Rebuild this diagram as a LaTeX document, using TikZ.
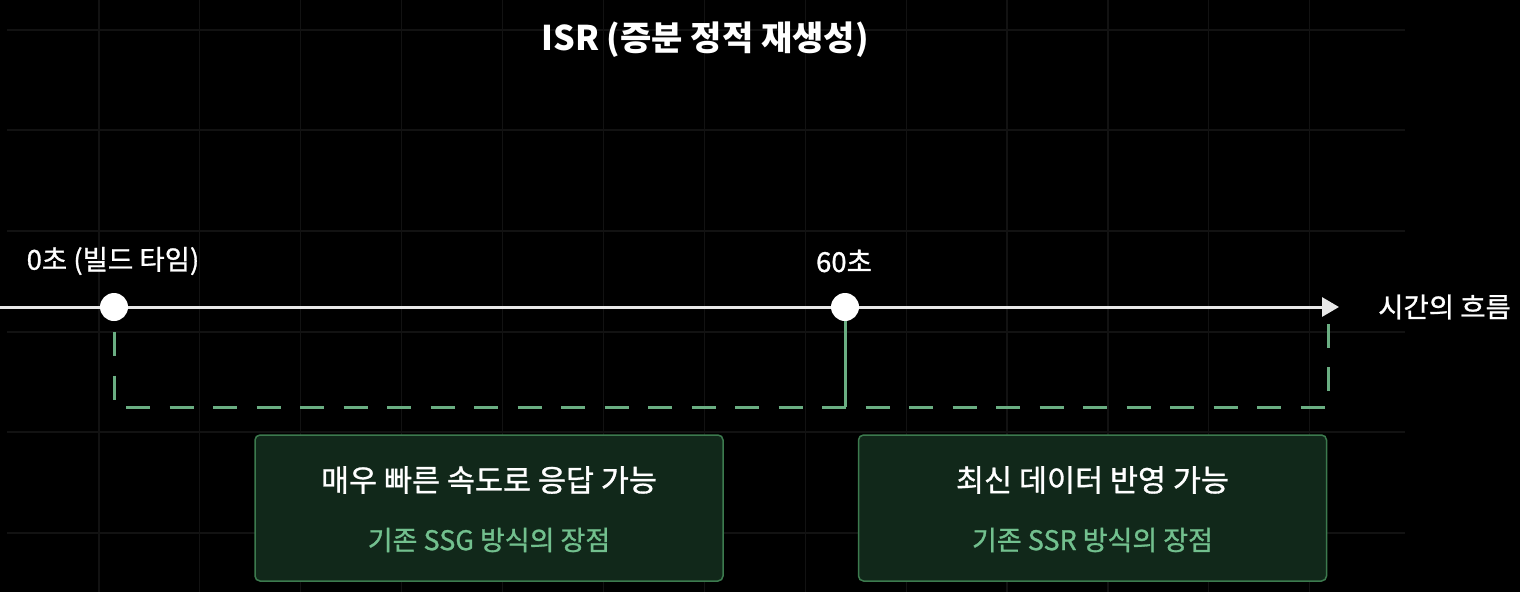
\documentclass[tikz,border=0pt]{standalone}
\usepackage{fontspec}
\setmainfont{Noto Sans CJK KR}
\newfontfamily\medfont{Noto Sans CJK KR}[FakeBold=1.0]
\usetikzlibrary{arrows.meta,positioning,calc}
\usepackage{xcolor}
\definecolor{gridgray}{HTML}{121212}
\definecolor{axiswhite}{HTML}{E8E8E8}
\definecolor{isrgreen}{HTML}{6AAE82}
\definecolor{boxfill}{HTML}{11281A}
\definecolor{boxedge}{HTML}{3C7A4E}
\definecolor{subgreen}{HTML}{72C08E}

\tikzset{
  gridline/.style={gridgray,line width=1.2pt},
  timeaxis/.style={axiswhite,line width=3pt,-{Triangle[length=17pt,width=19pt]}},
  tickdot/.style={circle,fill=white,minimum size=28pt,inner sep=0pt},
  timelabel/.style={text=white,inner sep=0pt,font=\medfont\fontsize{27.5}{31}\selectfont},
  spanline/.style={isrgreen,line width=3pt,dash pattern=on 24pt off 19.5pt},
  linkline/.style={isrgreen,line width=3pt},
  gainbox/.style={draw=boxedge,fill=boxfill,line width=1.5pt,rounded corners=5pt,
                  minimum width=468pt,minimum height=146pt},
  gainmain/.style={text=white,inner sep=0pt,font=\medfont\fontsize{30.5}{34}\selectfont},
  gainsub/.style={text=subgreen,inner sep=0pt,font=\medfont\fontsize{27}{31}\selectfont}
}

\begin{document}
\begin{tikzpicture}[x=1pt,y=-1pt]
  \useasboundingbox (0,0) rectangle (1520,592);
  \fill[black] (0,0) rectangle (1520,592);

  % Grid
  \foreach \x in {1,...,13} {
    \draw[gridline] (\x*100.9-2,0) -- (\x*100.9-2,592);
  }
  \foreach \y in {30,130,231,332,432,533} {
    \draw[gridline] (7,\y) -- (1405,\y);
  }

  % Title
  \node[text=white,font=\fontsize{34}{38}\selectfont\bfseries] (title) at (705,40) {ISR (증분 정적 재생성)};

  % Time axis
  \coordinate (axisstart) at (0,307);
  \coordinate (axisend) at (1339,307);
  \draw[timeaxis] (axisstart) -- (axisend);
  \node[timelabel,right=39pt of axisend] (flow) {시간의 흐름};

  \node[tickdot] (build) at (114,307) {};
  \node[tickdot] (sixty) at (845,307) {};
  \node[timelabel] (buildlabel) at (113,261) {0초 (빌드 타임)};
  \node[timelabel] (sixtylabel) at (844,261) {60초};

  % Spans
  \coordinate (spanleft) at (114,407);
  \coordinate (spanright) at (1328,407);
  \coordinate (spanend) at (1328,322);
  \draw[spanline] ($(build)+(0,25)$) -- (spanleft) -- (spanright) -- (spanend);
  \draw[linkline] (sixty) -- (sixty |- spanleft);

  % Gains
  \node[gainbox] (ssgbox) at (489,508) {};
  \node[gainmain] (ssgmain) at ($(ssgbox)+(0,-28)$) {매우 빠른 속도로 응답 가능};
  \node[gainsub] (ssgsub) at ($(ssgbox)+(0,32)$) {기존 SSG 방식의 장점};

  \node[gainbox] (ssrbox) at (1092.5,508) {};
  \node[gainmain] (ssrmain) at ($(ssrbox)+(0,-28)$) {최신 데이터 반영 가능};
  \node[gainsub] (ssrsub) at ($(ssrbox)+(0,32)$) {기존 SSR 방식의 장점};
\end{tikzpicture}
\end{document}
